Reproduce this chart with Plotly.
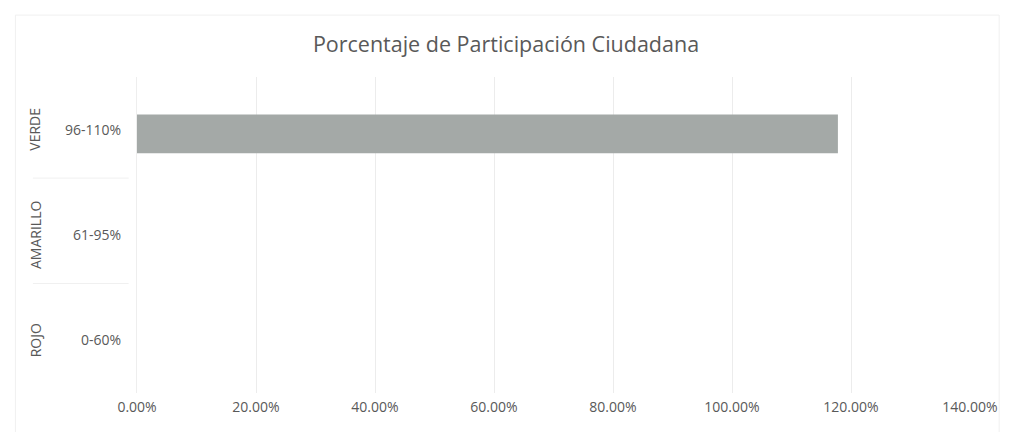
import plotly.graph_objects as go

# Data
groups = ["ROJO", "AMARILLO", "VERDE"]
ranges = ["0-60%", "61-95%", "96-110%"]
values = [None, None, 1.178]
x_ticks = [0, 0.2, 0.4, 0.6, 0.8, 1.0, 1.2, 1.4]
title = "Porcentaje de Participación Ciudadana"

FONT = "Open Sans"
GREY_TXT = "#595959"
BAR_W = 0.37

fig = go.Figure()
fig.add_trace(go.Bar(
    x=values, y=ranges, orientation="h",
    marker=dict(color="#a4a9a7", line=dict(width=0)),
    width=BAR_W, offset=-BAR_W / 2 - 0.04, hoverinfo="x+y",
))

for g, r in zip(groups, ranges):
    fig.add_annotation(
        x=0, xref="paper", y=r, yref="y", xshift=-102,
        xanchor="center", yanchor="middle",
        text=g, textangle=-90, showarrow=False,
        font=dict(family=FONT, size=14, color=GREY_TXT),
    )

# faint group separators in the label column
for i in range(len(ranges) - 1):
    fig.add_shape(type="line", xref="paper", yref="y",
                  x0=-0.125, x1=-0.01, y0=i + 0.54, y1=i + 0.54,
                  line=dict(color="#f0f0f0", width=1))
# faint outer chart border
fig.add_shape(type="rect", xref="paper", yref="paper",
              x0=-0.146, x1=1.035, y0=-0.3, y1=1.196,
              line=dict(color="#f0f0f0", width=1))

fig.update_layout(
    width=1002, height=424,
    margin=dict(l=129, r=37, t=69, b=39),
    paper_bgcolor="white", plot_bgcolor="white",
    showlegend=False,
    title=dict(text=title, x=0.497, xanchor="center", y=0.913, yanchor="middle",
               xref="container", yref="container",
               font=dict(family=FONT, size=21.5, color=GREY_TXT)),
)
fig.update_xaxes(
    range=[0, 1.4], tickvals=x_ticks, tickformat=".2%",
    showgrid=True, gridcolor="#ececec", gridwidth=1,
    zeroline=False, showline=False, ticks="",
    tickfont=dict(family=FONT, size=14, color=GREY_TXT),
    ticklabelstandoff=4,
)
fig.update_yaxes(
    categoryorder="array", categoryarray=ranges, range=[-0.5, 2.5],
    showgrid=False, zeroline=False, showline=True, linecolor="#eeeeee",
    ticks="", ticklabelstandoff=12,
    tickfont=dict(family=FONT, size=14, color=GREY_TXT),
)

fig.write_html("out.html")
